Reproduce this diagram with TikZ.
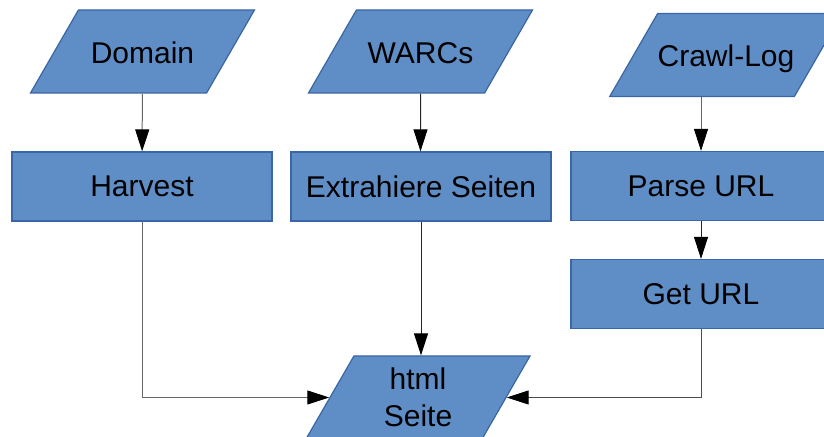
\documentclass[tikz,border=0pt]{standalone}
\usepackage{fontspec}
\setmainfont{Liberation Sans}
\usetikzlibrary{shapes.geometric}
\usetikzlibrary{arrows.meta}
\definecolor{boxfill}{HTML}{5F8DC6}
\definecolor{boxline}{HTML}{3A66A5}

\begin{document}
\begin{tikzpicture}[x=0.5pt, y=-0.5pt,
    procbox/.style={draw=boxline, fill=boxfill, line width=0.6pt,
      minimum width=130pt, minimum height=34.5pt, inner sep=0pt,
      font=\fontsize{15}{18.5}\selectfont},
    datain/.style={procbox, trapezium, trapezium left angle=60,
      trapezium right angle=120, trapezium stretches body,
      minimum width=112pt, minimum height=0pt, align=center,
      inner xsep=0pt, text height=13.25pt, text depth=1.25pt, inner ysep=13.5pt},
    conn/.style={draw=black!60, line width=0.5pt,
      -{Triangle[length=11pt, width=7pt, black]}}]
  \useasboundingbox (0,0) rectangle (824,437);
  \clip (0,0) rectangle (824,437);
  % Inputs
  \node[datain] (domain) at (142.5,51.5) {Domain};
  \node[datain] (warcs) at (420.5,51.5) {WARCs};
  \node[datain] (crawl) at (726,55) {Crawl-Log};
  % Steps
  \node[procbox] (harvest) at (142,186.5) {Harvest};
  \node[procbox] (extract) at (421,186.5) {Extrahiere Seiten};
  \node[procbox] (parse) at (701,186) {Parse URL};
  \node[procbox] (geturl) at (701,294) {Get URL};
  % Output
  \node[datain, text height=, text depth=, inner ysep=6pt] (page) at (418,397.5) {html\\Seite};
  % Connectors
  \draw[conn] (domain) -- (harvest);
  \draw[conn, draw=black!85] (warcs) -- (warcs |- extract.north);
  \draw[conn] (crawl.south -| parse.north) -- (parse);
  \draw[conn, draw=black!85] (parse) -- (geturl);
  \draw[conn, draw=black!85] (extract.south) -- (extract.south |- page.north);
  \draw[conn] (harvest.south) |- (page);
  \draw[conn, draw=black!70] (geturl.south) |- (page);
\end{tikzpicture}
\end{document}
